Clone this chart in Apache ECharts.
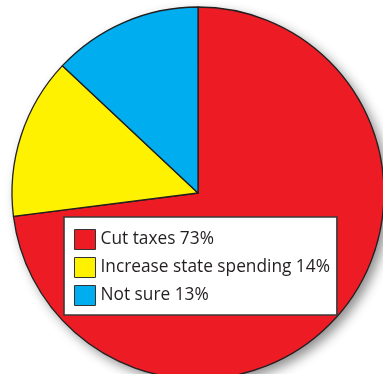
<!DOCTYPE html>
<html><head><meta charset="utf-8">
<script src="https://cdn.jsdelivr.net/npm/echarts@6/dist/echarts.min.js"></script>
<style>html,body{margin:0;padding:0;background:#fff}#c{width:383px;height:374px}</style>
</head><body><div id="c"></div>
<script>
const categories = ['Cut taxes', 'Increase state spending', 'Not sure'];
const values = [73, 14, 13];
const colors = ['#ED1C24', '#FFF200', '#00AEEF'];

const chart = echarts.init(document.getElementById('c'), null, {renderer: 'canvas'});
chart.setOption({
  animation: false,
  legend: {
    orient: 'vertical',
    left: 64, top: 217,
    padding: [12, 7, 9, 10],
    itemWidth: 21, itemHeight: 20, itemGap: 7,
    backgroundColor: '#fff',
    borderColor: '#3a3a3a', borderWidth: 1.6,
    icon: 'rect',
    itemStyle: {borderColor: '#333', borderWidth: 1},
    textStyle: {fontFamily: 'Open Sans', fontSize: 17.3, color: '#231F20'},
    formatter: function (name) {
      const i = categories.indexOf(name);
      return name + ' ' + values[i] + '%';
    },
    data: categories
  },
  series: [
    {
      type: 'pie', silent: true, z: 1,
      center: [198, 193], radius: 186,
      label: {show: false}, labelLine: {show: false},
      itemStyle: {color: '#fff', shadowBlur: 12, shadowOffsetX: 5, shadowOffsetY: 5, shadowColor: 'rgba(0,0,0,0.45)'},
      data: [{value: 1, name: ''}]
    },
    {
      type: 'pie', z: 2,
      center: [198, 193], radius: 186,
      startAngle: 90, clockwise: true,
      label: {show: false}, labelLine: {show: false},
      itemStyle: {borderColor: '#231F20', borderWidth: 1.3},
      emphasis: {disabled: true},
      data: categories.map((n, i) => ({name: n, value: values[i], itemStyle: {color: colors[i]}}))
    }
  ]
});
</script></body></html>
